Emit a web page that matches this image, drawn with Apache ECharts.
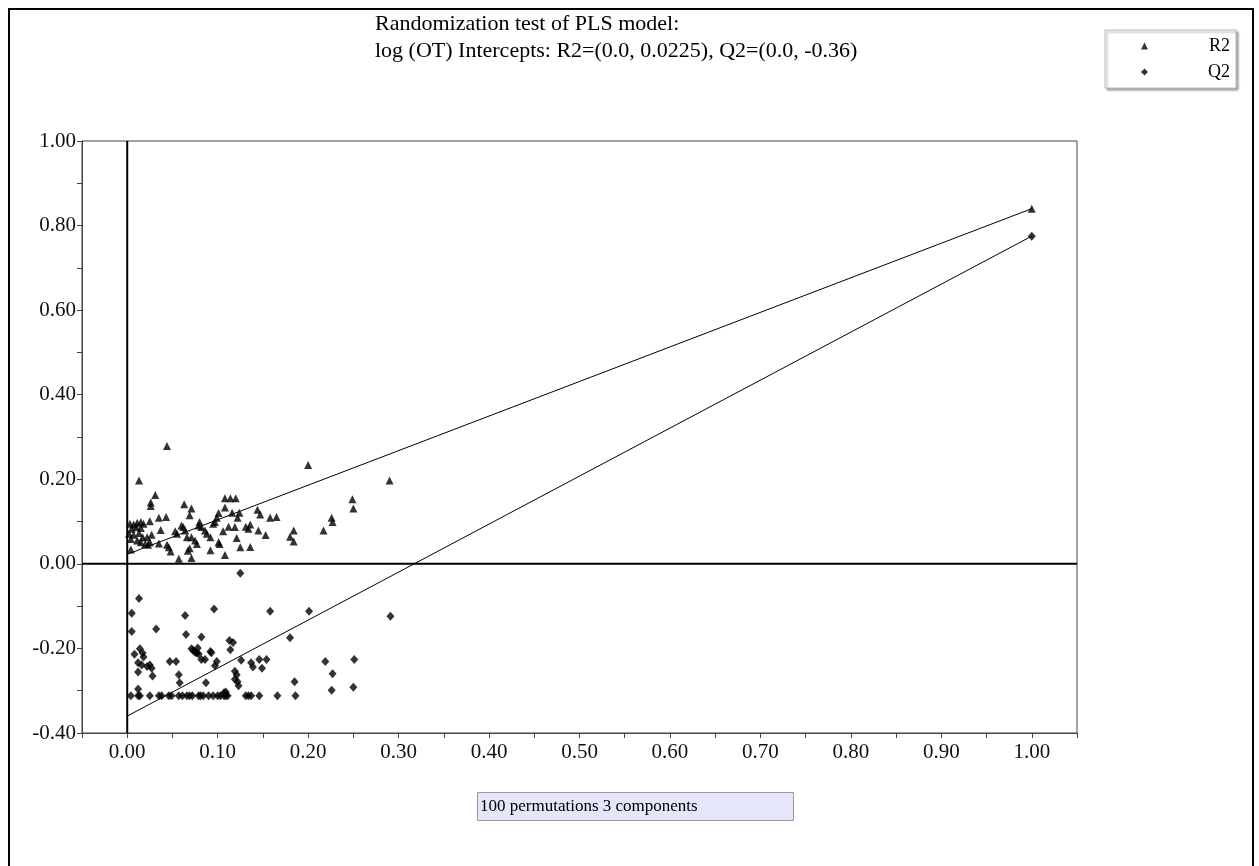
<!DOCTYPE html>
<html>
<head>
<meta charset="utf-8">
<script src="https://cdn.jsdelivr.net/npm/echarts@6/dist/echarts.min.js"></script>
<style>
  html, body { margin: 0; padding: 0; background: #fff; }
  #chart { width: 1259px; height: 866px; }
</style>
</head>
<body>
<div id="chart"></div>
<script>
// permutation results: [correlation with original y, value]
const r2Points = [
  [0.044, 0.279], [0.013, 0.197], [0.200, 0.234], [0.290, 0.197], [0.031, 0.163],
  [0.026, 0.137], [0.026, 0.145], [0.063, 0.141], [0.071, 0.131], [0.108, 0.155],
  [0.114, 0.155], [0.120, 0.155], [0.108, 0.133], [0.101, 0.120], [0.116, 0.121],
  [0.124, 0.121], [0.144, 0.128], [0.147, 0.117], [0.158, 0.109], [0.165, 0.111],
  [0.249, 0.153], [0.250, 0.131], [0.226, 0.109], [0.227, 0.099], [0.217, 0.079],
  [0.184, 0.079], [0.180, 0.064], [0.184, 0.053], [0.153, 0.068], [0.145, 0.079],
  [0.136, 0.093], [0.131, 0.088], [0.134, 0.083], [0.121, 0.061], [0.125, 0.039],
  [0.136, 0.040], [0.119, 0.087], [0.112, 0.088], [0.106, 0.077], [0.122, 0.109],
  [0.099, 0.109], [0.097, 0.099], [0.095, 0.095], [0.092, 0.032], [0.108, 0.021],
  [0.101, 0.051], [0.102, 0.047], [0.086, 0.079], [0.088, 0.071], [0.092, 0.063],
  [0.080, 0.099], [0.079, 0.091], [0.082, 0.087], [0.069, 0.115], [0.060, 0.091],
  [0.062, 0.087], [0.064, 0.079], [0.053, 0.077], [0.055, 0.071], [0.066, 0.063],
  [0.071, 0.063], [0.075, 0.055], [0.077, 0.047], [0.067, 0.031], [0.069, 0.037],
  [0.071, 0.014], [0.057, 0.012], [0.044, 0.045], [0.046, 0.039], [0.048, 0.029],
  [0.035, 0.048], [0.025, 0.051], [0.023, 0.045], [0.027, 0.069], [0.037, 0.080],
  [0.035, 0.109], [0.043, 0.111], [0.025, 0.101], [0.003, 0.095], [0.007, 0.093],
  [0.011, 0.097], [0.015, 0.099], [0.018, 0.095], [0.005, 0.083], [0.010, 0.087],
  [0.015, 0.085], [0.002, 0.071], [0.007, 0.069], [0.013, 0.073], [0.017, 0.063],
  [0.004, 0.059], [0.011, 0.055], [0.015, 0.051], [0.004, 0.034], [0.022, 0.063],
  [0.020, 0.047], [1.000, 0.840]
];

const q2Points = [
  [0.125, -0.022], [0.013, -0.082], [0.005, -0.117], [0.064, -0.122], [0.096, -0.107],
  [0.158, -0.112], [0.201, -0.112], [0.291, -0.124], [0.005, -0.160], [0.032, -0.154],
  [0.065, -0.167], [0.082, -0.173], [0.180, -0.175], [0.113, -0.181], [0.117, -0.186],
  [0.114, -0.203], [0.078, -0.199], [0.073, -0.205], [0.077, -0.211], [0.093, -0.210],
  [0.014, -0.201], [0.017, -0.211], [0.008, -0.214], [0.018, -0.220], [0.012, -0.234],
  [0.016, -0.239], [0.022, -0.243], [0.025, -0.239], [0.027, -0.247], [0.012, -0.256],
  [0.028, -0.265], [0.047, -0.231], [0.054, -0.231], [0.057, -0.262], [0.058, -0.281],
  [0.071, -0.201], [0.075, -0.209], [0.079, -0.213], [0.082, -0.226], [0.086, -0.226],
  [0.092, -0.207], [0.099, -0.231], [0.097, -0.241], [0.087, -0.281], [0.119, -0.254],
  [0.121, -0.262], [0.119, -0.273], [0.122, -0.279], [0.123, -0.288], [0.126, -0.228],
  [0.137, -0.234], [0.139, -0.244], [0.149, -0.247], [0.146, -0.226], [0.154, -0.226],
  [0.185, -0.279], [0.219, -0.231], [0.227, -0.260], [0.251, -0.226], [0.250, -0.292],
  [0.226, -0.299], [0.012, -0.296], [0.107, -0.305], [0.109, -0.303],
  [0.004, -0.312], [0.012, -0.312], [0.014, -0.312], [0.025, -0.312], [0.035, -0.312],
  [0.038, -0.312], [0.046, -0.312], [0.049, -0.312], [0.057, -0.312], [0.061, -0.312],
  [0.066, -0.312], [0.069, -0.312], [0.072, -0.312], [0.079, -0.312], [0.081, -0.312],
  [0.084, -0.312], [0.090, -0.312], [0.095, -0.312], [0.100, -0.312], [0.103, -0.312],
  [0.107, -0.312], [0.109, -0.312], [0.111, -0.312], [0.131, -0.312], [0.134, -0.312],
  [0.137, -0.312], [0.146, -0.312], [0.166, -0.312], [0.186, -0.312],
  [1.000, 0.775]
];

// regression lines through the intercepts
const r2Line = [[0, 0.0225], [1, 0.84]];
const q2Line = [[0, -0.36], [1, 0.775]];
const zeroH = [[-0.05, 0], [1.05, 0]];
const zeroV = [[0, -0.4], [0, 1.0]];

const titleLines = [
  'Randomization test of PLS model:',
  'log (OT) Intercepts: R2=(0.0, 0.0225), Q2=(0.0, -0.36)'
];
const footNote = '100 permutations 3 components';

const serif = '"Liberation Serif", "Times New Roman", serif';

const chart = echarts.init(document.getElementById('chart'));

const plainLine = (data, width) => ({
  type: 'line',
  data: data,
  showSymbol: false,
  silent: true,
  animation: false,
  lineStyle: { color: '#000', width: width },
  z: 1
});

chart.setOption({
  animation: false,
  backgroundColor: '#fff',
  title: [
    {
      text: titleLines.join('\n'),
      left: 370,
      top: 6,
      textAlign: 'left',
      textStyle: { fontFamily: serif, fontSize: 22, fontWeight: 'normal', color: '#000', lineHeight: 27 }
    },
    {
      text: footNote,
      left: 477,
      top: 792,
      padding: [6, 96, 6, 3],
      backgroundColor: '#e6e6fa',
      borderColor: '#999',
      borderWidth: 1,
      textStyle: { fontFamily: serif, fontSize: 17, fontWeight: 'normal', color: '#000' }
    }
  ],
  legend: {
    orient: 'vertical',
    left: 1105,
    top: 30,
    itemWidth: 7,
    itemHeight: 7,
    itemGap: 8,
    padding: [7, 6, 7, 36],
    backgroundColor: '#fff',
    borderColor: '#bbb',
    borderWidth: 1,
    shadowColor: 'rgba(0,0,0,0.35)',
    shadowOffsetX: 2,
    shadowOffsetY: 2,
    shadowBlur: 2,
    data: [
      { name: 'R2', icon: 'triangle' },
      { name: 'Q2', icon: 'diamond' }
    ],
    formatter: name => '{t|' + name + '}',
    textStyle: {
      rich: { t: { width: 77, align: 'right', fontFamily: serif, fontSize: 18, color: '#000' } }
    }
  },
  graphic: [
    {
      type: 'rect',
      shape: { x: 9, y: 9, width: 1244, height: 880 },
      style: { fill: 'none', stroke: '#000', lineWidth: 2 },
      silent: true
    }
  ],
  grid: {
    left: 82,
    top: 141,
    width: 995,
    height: 592,
    show: true,
    borderColor: '#444',
    borderWidth: 1,
    containLabel: false
  },
  xAxis: {
    type: 'value',
    min: -0.05,
    max: 1.05,
    interval: 0.05,
    axisLine: { onZero: false, lineStyle: { color: '#444', width: 1 } },
    axisTick: { show: true, length: 5, lineStyle: { color: '#444' } },
    splitLine: { show: false },
    axisLabel: {
      showMinLabel: true,
      showMaxLabel: true,
      margin: 9,
      fontFamily: serif,
      fontSize: 21,
      color: '#111',
      formatter: v => {
        const r = Math.round(v * 100);
        if (r < 0 || r > 100 || r % 10 !== 0) return '';
        return (r / 100).toFixed(2);
      }
    }
  },
  yAxis: {
    type: 'value',
    min: -0.4,
    max: 1.0,
    interval: 0.1,
    axisLine: { onZero: false, lineStyle: { color: '#444', width: 1 } },
    axisTick: { show: true, length: 5, lineStyle: { color: '#444' } },
    splitLine: { show: false },
    axisLabel: {
      showMinLabel: true,
      showMaxLabel: true,
      margin: 6,
      fontFamily: serif,
      fontSize: 21,
      color: '#111',
      formatter: v => {
        const r = Math.round(v * 10);
        if (r % 2 !== 0) return '';
        return r === 0 ? '0.00' : (r / 10).toFixed(2);
      }
    }
  },
  series: [
    plainLine(zeroH, 2),
    plainLine(zeroV, 2),
    plainLine(r2Line, 1),
    plainLine(q2Line, 1),
    {
      name: 'R2',
      type: 'scatter',
      data: r2Points,
      symbol: 'triangle',
      symbolSize: 8,
      itemStyle: { color: '#000' },
      z: 3
    },
    {
      name: 'Q2',
      type: 'scatter',
      data: q2Points,
      symbol: 'diamond',
      symbolSize: [8, 9],
      itemStyle: { color: '#000' },
      z: 3
    }
  ]
});
</script>
</body>
</html>
